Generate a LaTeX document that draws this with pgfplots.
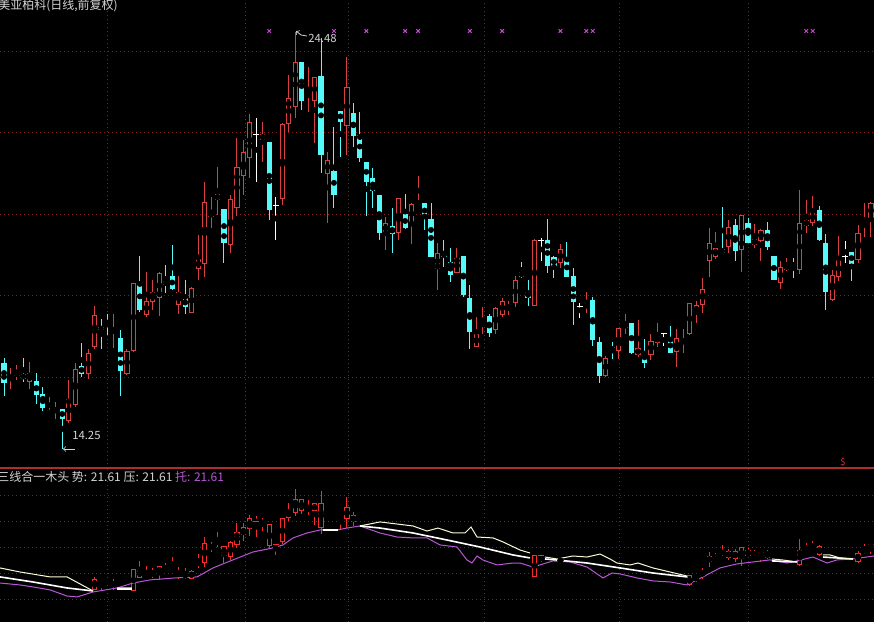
\documentclass[border=0pt]{standalone}
\usepackage{pgfplots}
\pgfplotsset{compat=1.18}
\usepackage{pgfplotstable}
\usepackage{fontspec}
\newfontfamily\cjk{Noto Sans CJK SC}

\definecolor{upred}{RGB}{215,65,65}
\definecolor{lowred}{RGB}{245,45,45}
\definecolor{dncyan}{RGB}{84,250,250}
\definecolor{gridred}{RGB}{135,30,30}
\definecolor{sepred}{RGB}{175,45,45}
\definecolor{tuo}{RGB}{185,85,215}
\definecolor{shi}{RGB}{250,250,215}
\definecolor{sig}{RGB}{200,70,210}
\definecolor{txt}{RGB}{212,212,212}

% daily candles: index, open, high, low, close, shown in lower panel
\pgfplotstableread{
i o h l c v
0 16.36 16.48 15.55 15.86 0
1 15.96 16.23 15.72 16.06 0
2 16.04 16.31 15.94 16.13 0
3 16.09 16.48 15.89 15.96 0
4 15.89 16.38 15.72 16.11 0
5 15.91 16.11 15.35 15.57 0
6 15.59 15.77 15.18 15.25 0
7 15.13 15.52 15.12 15.14 0
8 15.19 15.40 14.98 15.21 0
9 15.23 15.23 14.25 14.98 0
10 14.93 15.94 14.88 15.47 0
11 15.32 16.36 15.28 16.21 0
12 16.28 16.85 16.01 16.09 0
13 16.09 16.70 15.96 16.60 0
14 16.75 17.75 16.70 17.53 1
15 17.24 17.43 16.70 17.16 1
16 17.36 17.56 17.04 17.33 1
17 17.15 17.56 16.72 17.17 1
18 16.97 17.16 15.55 16.16 0
19 16.09 16.70 16.06 16.65 0
20 16.65 18.32 16.63 18.32 1
21 18.32 18.98 17.61 17.66 1
22 17.53 18.59 17.48 17.88 1
23 17.85 18.39 17.66 18.10 1
24 17.95 18.59 17.51 18.56 1
25 18.37 18.76 18.07 18.27 1
26 18.49 19.25 18.15 18.17 1
27 17.78 18.49 17.56 18.10 1
28 17.95 18.39 17.56 17.73 1
29 17.58 18.22 17.58 18.20 1
30 18.66 19.50 18.39 18.91 1
31 18.78 20.80 18.47 20.31 1
32 19.94 20.43 19.67 20.06 1
33 20.35 21.16 19.99 20.50 1
34 20.13 20.13 18.81 19.30 1
35 19.25 20.48 19.05 20.38 1
36 20.16 21.88 19.96 21.16 1
37 20.94 21.83 20.48 21.53 1
38 21.38 22.46 20.89 22.27 1
39 21.97 22.37 20.80 21.97 1
40 21.83 22.27 21.29 21.97 1
41 21.78 21.78 19.86 20.11 1
42 20.21 20.43 19.37 20.21 1
43 20.38 22.24 20.23 22.22 1
44 22.22 23.42 22.02 22.86 1
45 22.64 24.48 22.37 23.74 1
46 23.74 23.74 22.56 22.78 1
47 22.91 23.62 22.51 22.95 1
48 22.78 23.37 21.75 23.37 1
49 23.40 24.33 21.02 21.46 1
50 20.99 21.53 19.79 21.34 0
51 21.07 22.15 20.16 20.48 0
52 22.54 22.54 21.41 22.27 1
53 22.17 23.86 21.46 23.13 1
54 22.49 22.73 21.65 21.92 1
55 21.95 22.51 21.29 21.38 0
56 21.29 21.29 19.96 20.80 0
57 20.89 21.14 20.16 20.58 0
58 20.48 20.48 19.37 19.54 0
59 19.54 19.94 19.13 19.79 0
60 19.72 20.16 19.05 19.52 0
61 19.54 20.40 19.37 20.40 0
62 20.01 20.50 19.64 19.67 0
63 19.77 20.28 19.27 20.26 0
64 20.26 20.94 20.23 20.31 0
65 20.28 20.28 19.62 19.91 0
66 19.89 20.28 18.96 18.96 0
67 18.66 19.30 18.15 19.05 0
68 19.05 19.37 18.71 18.96 0
69 18.83 19.18 18.34 18.51 0
70 18.56 19.18 18.56 18.93 0
71 18.98 18.98 17.97 18.02 0
72 17.95 18.27 16.70 17.12 0
73 16.75 17.48 16.75 17.07 0
74 17.26 17.73 17.07 17.36 0
75 17.51 17.56 16.99 17.09 0
76 17.16 17.73 17.07 17.70 0
77 17.53 17.95 17.48 17.88 0
78 17.66 17.88 17.53 17.78 0
79 17.83 18.49 17.73 18.39 0
80 18.59 18.83 18.44 18.47 0
81 18.10 18.39 17.75 17.95 0
82 17.75 19.40 17.75 19.37 1
83 19.35 19.42 18.86 19.35 1
84 19.37 19.89 18.56 18.74 0
85 18.96 18.98 18.44 18.71 0
86 18.81 19.27 18.69 19.15 1
87 18.93 19.32 18.47 18.47 0
88 18.49 18.69 17.29 17.85 0
89 17.75 17.83 17.46 17.75 0
90 17.73 18.10 17.58 17.80 0
91 17.90 17.97 16.77 16.92 0
92 16.87 16.99 15.86 16.04 0
93 16.04 16.53 16.01 16.48 0
94 16.75 16.87 16.45 16.65 0
95 16.65 17.21 16.45 17.21 0
96 17.21 17.56 17.07 17.34 0
97 17.34 17.34 16.58 16.60 0
98 16.55 17.41 16.50 16.72 0
99 16.63 16.94 16.23 16.36 0
100 16.55 17.07 16.43 16.89 0
101 16.85 17.34 16.75 17.02 0
102 17.07 17.07 16.77 17.07 0
103 16.97 17.26 16.60 16.60 0
104 16.63 17.19 16.26 16.97 0
105 16.85 17.19 16.60 16.92 0
106 17.07 17.83 17.04 17.83 1
107 17.58 17.88 17.34 17.78 1
108 17.78 18.44 17.58 18.17 1
109 18.86 19.67 18.47 19.30 1
110 18.96 19.57 18.91 19.18 1
111 19.15 20.18 19.03 19.05 1
112 19.20 19.86 19.05 19.69 1
113 19.74 19.89 18.86 19.10 1
114 19.13 19.99 18.59 19.99 1
115 19.79 19.91 19.30 19.30 1
116 19.25 19.77 19.18 19.40 1
117 19.35 19.64 18.86 19.62 1
118 19.62 19.81 19.13 19.20 1
119 18.98 18.98 18.39 18.39 0
120 18.32 18.86 18.17 18.71 0
121 18.64 18.93 18.61 18.78 0
122 18.81 18.93 18.44 18.71 0
123 18.64 20.60 18.54 19.79 1
124 19.72 20.35 19.54 19.86 1
125 19.79 20.45 19.72 20.08 1
126 20.11 20.21 19.35 19.37 1
127 19.30 19.52 17.66 18.10 0
128 17.90 18.64 17.88 18.51 0
129 18.47 19.47 18.37 18.88 0
130 18.98 19.35 18.81 18.98 0
131 19.08 19.08 18.37 18.78 0
132 18.88 19.74 18.81 19.54 1
133 19.69 20.28 19.45 19.81 1
134 19.91 20.31 19.45 20.28 1
}\kline

% signal crosses along the top
\pgfplotstableread{
i y
41 24.50
51 24.50
56 24.50
62 24.50
64 24.50
72 24.50
77 24.50
86 24.50
90 24.50
91 24.50
124 24.50
125 24.50
}\sig

% tuo (support) line
\pgfplotstableread{
i p
-0.62 17.25
2.47 17.10
4.48 16.95
7.11 16.72
9.74 16.25
11.28 16.18
13.76 16.56
17.47 16.87
19.94 17.25
22.57 17.49
26.43 17.64
29.83 17.72
32.30 18.41
35.39 19.03
38.49 19.64
41.58 19.95
43.12 20.18
44.67 20.72
46.83 21.10
48.84 21.33
51.47 21.33
53.01 21.48
55.02 21.64
58.11 21.10
60.74 20.79
63.21 20.72
65.38 20.72
67.39 20.18
70.02 20.02
71.56 19.02
72.33 18.79
73.11 19.33
74.03 19.02
76.20 18.64
78.67 18.79
79.75 18.79
81.76 18.48
84.85 18.95
87.48 18.87
90.11 18.48
92.58 17.64
93.97 18.02
95.21 17.95
97.84 17.64
100.31 17.41
102.94 17.33
105.56 17.10
108.04 17.72
110.66 18.41
113.29 18.72
115.77 18.87
118.39 19.03
121.02 18.79
122.57 18.95
125.04 19.25
127.20 18.79
128.75 19.03
131.22 19.10
134.47 19.33
}\tuoline

% ya (pressure) line, smooth
\pgfplotstableread{
i p
-0.62 17.72
4.48 17.33
7.11 17.10
9.74 16.87
13.76 16.64
nan nan
17.47 16.79
19.78 16.79
nan nan
49.30 21.33
51.62 21.33
nan nan
55.02 21.64
58.11 21.48
63.21 21.10
68.47 20.56
73.57 20.02
78.67 19.41
81.30 19.18
nan nan
83.62 19.10
85.47 19.02
90.11 18.79
95.21 18.41
100.31 18.02
105.56 17.72
nan nan
118.70 18.95
122.57 18.87
nan nan
126.58 19.25
131.22 19.10
}\yaline

% shi (trend) line
\pgfplotstableread{
i p
-0.62 18.41
2.47 18.10
7.11 17.72
9.74 17.72
11.75 17.18
13.76 16.64
nan nan
17.47 16.87
19.78 16.87
nan nan
49.30 21.33
51.62 21.33
nan nan
55.02 21.64
58.11 21.95
60.74 21.79
63.21 21.64
65.38 21.25
67.08 21.48
69.40 21.10
71.25 21.10
72.18 21.56
73.11 20.79
75.58 20.72
77.13 20.41
79.75 19.79
81.30 19.56
nan nan
83.62 19.25
85.47 19.10
87.94 19.33
90.11 19.25
92.12 19.48
93.66 19.10
94.74 18.79
96.75 18.64
97.99 18.79
100.31 18.41
102.94 18.10
105.56 17.79
nan nan
118.70 19.10
120.40 19.02
122.57 18.87
nan nan
126.58 19.41
127.67 19.41
129.21 19.18
131.22 19.10
}\shiline

\newcommand\PX[2]{({0.75pt*(#1)},{0.75pt*(622-(#2))})}

\pgfplotsset{
  panel/.style={scale only axis, width=655.5pt, xmin=-0.62, xmax=134.47,
    axis line style={draw=none}, major tick length=0pt,
    xticklabels={}, yticklabels={},
    xtick={16.07,37.25,53.17,74.2,95.2,115.1},
    grid=major,
    major grid style={gridred, line width=0.75pt, dash pattern=on 0.75pt off 2.25pt}},
  bar/.style 2 args={only marks, mark=none,
    error bars/y dir=both, error bars/y explicit, error bars/error mark=none,
    error bars/error bar style={line width=#2, color=#1, solid}},
}

\begin{document}
\begin{tikzpicture}
\useasboundingbox (0,0) rectangle (655.5pt,466.5pt);
\fill[black] (0,0) rectangle (655.5pt,466.5pt);

% ---- price panel ----
\begin{axis}[panel, at={(0,115.5pt)}, anchor=south west, height=351pt,
    ymin=13.779, ymax=25.261, ytick={16,18,20,22,24}]
% rising: hollow red
\addplot[bar={upred}{0.75pt}, restrict expr to domain={\thisrow{c}-\thisrow{o}}{0.005:100}]
  table[x=i, y expr={(\thisrow{h}+\thisrow{l})/2}, y error expr={(\thisrow{h}-\thisrow{l})/2}] {\kline};
\addplot[bar={upred}{3.9pt}, restrict expr to domain={\thisrow{c}-\thisrow{o}}{0.005:100}]
  table[x=i, y expr={(\thisrow{o}+\thisrow{c})/2}, y error expr={(\thisrow{c}-\thisrow{o})/2}] {\kline};
\addplot[bar={black}{2.4pt}, restrict expr to domain={\thisrow{c}-\thisrow{o}}{0.005:100}]
  table[x=i, y expr={(\thisrow{o}+\thisrow{c})/2}, y error expr={max((\thisrow{c}-\thisrow{o})/2-0.0245,0)}] {\kline};
% falling: filled cyan
\addplot[bar={dncyan}{0.75pt}, restrict expr to domain={\thisrow{o}-\thisrow{c}}{0.005:100}]
  table[x=i, y expr={(\thisrow{h}+\thisrow{l})/2}, y error expr={(\thisrow{h}-\thisrow{l})/2}] {\kline};
\addplot[bar={dncyan}{3.9pt}, restrict expr to domain={\thisrow{o}-\thisrow{c}}{0.005:100}]
  table[x=i, y expr={(\thisrow{o}+\thisrow{c})/2}, y error expr={(\thisrow{o}-\thisrow{c})/2}] {\kline};
% doji: white cross
\addplot[bar={white}{0.75pt}, restrict expr to domain={\thisrow{c}-\thisrow{o}}{-0.004:0.004}]
  table[x=i, y expr={(\thisrow{h}+\thisrow{l})/2}, y error expr={(\thisrow{h}-\thisrow{l})/2}] {\kline};
\addplot[only marks, mark=-, mark size=2.2pt, white, line width=0.75pt,
  restrict expr to domain={\thisrow{c}-\thisrow{o}}{-0.004:0.004}]
  table[x=i, y=c] {\kline};
% signals
\addplot[only marks, mark=x, mark size=1.9pt, sig, line width=0.75pt] table[x=i, y=y] {\sig};
\end{axis}

% ---- indicator panel ----
\begin{axis}[panel, at={(0,0)}, anchor=south west, height=115.5pt,
    ymin=14.25, ymax=26.10, ytick={16,18,20,22,24}]
\addplot[bar={lowred}{0.75pt}, restrict expr to domain={\thisrow{v}}{0.5:1.5}]
  table[x=i, y expr={(\thisrow{h}+\thisrow{l})/2}, y error expr={(\thisrow{h}-\thisrow{l})/2}] {\kline};
\addplot[bar={lowred}{3.9pt}, restrict expr to domain={\thisrow{v}}{0.5:1.5}]
  table[x=i, y expr={(\thisrow{o}+\thisrow{c})/2}, y error expr={abs(\thisrow{c}-\thisrow{o})/2}] {\kline};
\addplot[bar={black}{2.4pt}, restrict expr to domain={\thisrow{v}}{0.5:1.5}]
  table[x=i, y expr={(\thisrow{o}+\thisrow{c})/2}, y error expr={max(abs(\thisrow{c}-\thisrow{o})/2-0.077,0)}] {\kline};
\addplot[only marks, mark=-, mark size=2.2pt, lowred, line width=0.75pt,
  restrict expr to domain={10*\thisrow{v}-100*abs(\thisrow{c}-\thisrow{o})}{9.5:10.5}]
  table[x=i, y=c] {\kline};
\addplot[tuo, line width=0.75pt] table[x=i, y=p] {\tuoline};
\addplot[white, line width=1.2pt, unbounded coords=jump] table[x=i, y=p] {\yaline};
\addplot[shi, line width=0.75pt, unbounded coords=jump] table[x=i, y=p] {\shiline};
\end{axis}

\draw[sepred, line width=0.9pt] (0,115.5pt) -- (655.5pt,115.5pt);

% texts
\node[anchor=west, inner sep=0pt, txt, font=\cjk\fontsize{9pt}{10pt}\selectfont] at \PX{-2}{6} {美亚柏科(日线,前复权)};
\node[anchor=west, inner sep=0pt, font=\cjk\fontsize{9pt}{10pt}\selectfont] at \PX{-3}{477}
  {\textcolor{txt}{三线合一木头 势: 21.61 压: 21.61} \textcolor{tuo}{托: 21.61}};
\node[anchor=west, inner sep=0pt, txt, font=\cjk\fontsize{8.5pt}{10pt}\selectfont] at \PX{72}{435} {14.25};
\draw[txt, line width=0.6pt, <-] \PX{63}{449} -- \PX{75}{449};
\node[anchor=west, inner sep=0pt, txt, font=\cjk\fontsize{8.5pt}{10pt}\selectfont] at \PX{308}{38} {24.48};
\draw[txt, line width=0.6pt, <-] \PX{296}{31} -- \PX{301}{35} -- \PX{307}{36};
\node[inner sep=0pt, lowred, font=\cjk\fontsize{7pt}{8pt}\selectfont] at \PX{843}{462} {\$};
\end{tikzpicture}
\end{document}
